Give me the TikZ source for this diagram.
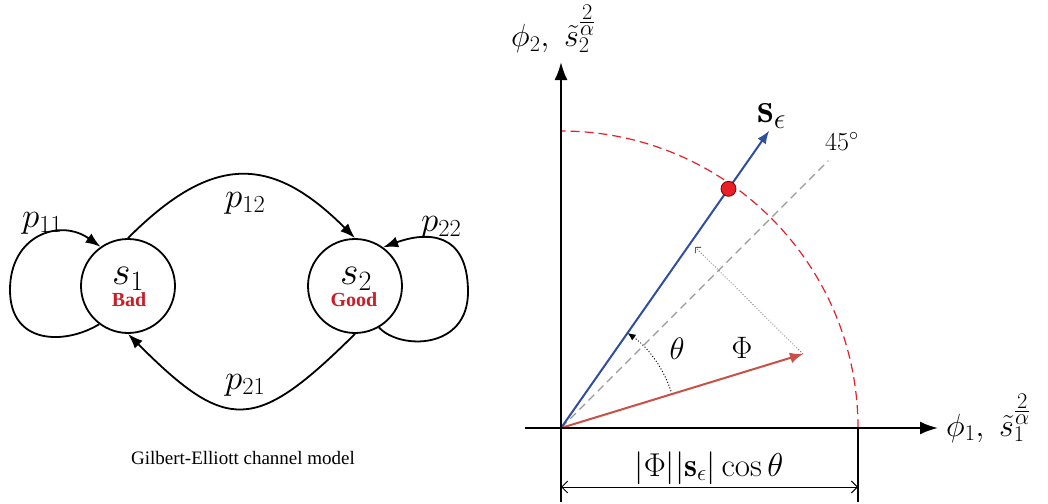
\RequirePackage{fix-cm}
\documentclass[tikz,border=0pt]{standalone}
\usepackage{fontspec}
\newfontfamily\tnr{Liberation Serif}
\usetikzlibrary{arrows.meta}
\definecolor{vblue}{RGB}{48,78,160}
\definecolor{vred}{RGB}{200,80,70}
\definecolor{arcred}{RGB}{228,32,42}
\definecolor{dotred}{RGB}{232,30,40}
\definecolor{lblred}{RGB}{200,30,40}
\newcommand{\pw}[1]{{\tilde{s}_{#1}}^{\frac{\scriptstyle 2}{\scriptstyle\alpha}}}
\begin{document}
\begin{tikzpicture}[x=1pt,y=-1pt,
  state/.style={circle, draw, line width=1.8pt, minimum size=94pt, inner sep=0},
  edge/.style={line width=1.8pt, -{Latex[length=15pt,width=11pt]}},
  plab/.style={inner sep=0, anchor=base west, font=\fontsize{35}{40}\selectfont},
  slab/.style={inner sep=0, anchor=base, font=\fontsize{40}{46}\selectfont},
  qual/.style={inner sep=0, anchor=base, text=lblred, font=\tnr\bfseries\fontsize{20}{24}\selectfont},
  mlab/.style={inner sep=0, font=\fontsize{31}{36}\selectfont},
  axlab/.style={inner sep=0, anchor=base west, font=\fontsize{32}{38}\selectfont},
  axis/.style={line width=2.2pt, -{Latex[length=18pt,width=13pt]}},
  dimline/.style={line width=1pt, {Straight Barb[length=6pt,width=12pt]}-{Straight Barb[length=6pt,width=12pt]}}
]
\useasboundingbox (0,0) rectangle (1048,503);

% ---------- Gilbert-Elliott model ----------
\node[state] (s1) at (128,286) {};
\node[state] (s2) at (355,286) {};
\node[slab] (s1l) at (128,284) {$s_1$};
\node[slab] (s2l) at (356,284) {$s_2$};
\node[qual] (bad) at (129,306) {Bad};
\node[qual] (good) at (354,306) {Good};

\draw[edge] (s1.north) .. controls (212,154) and (271,154) .. (s2.north);
\draw[edge] (s2.south) .. controls (255,433) and (227,433) .. (s1.south);
\draw[edge] (s1.-127) .. controls (65,345) and (10,345) .. (10,290)
   .. controls (10,235) and (60,218) .. (s1.125);
\draw[edge] (s2.-60) .. controls (400,350) and (468,350) .. (468,292)
   .. controls (468,230) and (425,232) .. (s2.54);

\node[plab] (p11) at (22,227) {$p_{11}$};
\node[plab] (p12) at (225,207) {$p_{12}$};
\node[plab] (p22) at (421,231) {$p_{22}$};
\node[plab] (p21) at (225,389) {$p_{21}$};

\node[inner sep=0, anchor=base, font=\tnr\fontsize{19}{23}\selectfont] (cap) at (243,464) {Gilbert-Elliott channel model};

% ---------- vector diagram ----------
\begin{scope}[shift={(561,428)}, yscale=-1]
  \coordinate (O) at (0,0);
  \coordinate (ybot) at (0,-74);
  \coordinate (ytop) at (0,366);
  \coordinate (xl) at (-36,0);
  \coordinate (xr) at (377,0);
  \coordinate (g45) at (45:378);
  \coordinate (Se) at (55:363);
  \coordinate (Ph) at (242,74);
  \coordinate (pr) at (134,181);
  \coordinate (d0) at (0,-59);
  \coordinate (d1) at (297,-59);
  \coordinate (v0) at (297,0);
  \coordinate (v1) at (297,-74);

  \draw[arcred, line width=1.2pt, dash pattern=on 9pt off 5pt] (297,0) arc[start angle=0, end angle=90, radius=297];
  \draw[gray!80, line width=1.1pt, dash pattern=on 8pt off 5pt] (O) -- (g45);
  \draw[gray!70!black, line width=0.8pt, dotted, -{Straight Barb[length=4pt,width=8pt]}] (Ph) -- (pr);
  \draw[line width=1pt, dotted, -{Latex[length=8pt,width=7pt]}] (17:116) arc[start angle=17, end angle=55, radius=116];
  \draw[vblue, line width=2pt, -{Latex[length=13pt,width=10pt]}] (O) -- (Se);
  \draw[vred, line width=2pt, -{Latex[length=13pt,width=11pt]}] (O) -- (Ph);
  \draw[line width=1.2pt] (O) -- (ybot);
  \draw[line width=1.2pt] (v0) -- (v1);
  \draw[axis] (ybot) -- (ytop);
  \draw[axis] (xl) -- (xr);
  \draw[dimline] (d0) -- (d1);
  \node[circle, fill=dotred, draw=red!50!black, line width=0.8pt, minimum size=15pt, inner sep=0] (dot) at (55:292) {};
\end{scope}

\node[mlab, anchor=base] (th) at (677,359) {$\theta$};
\node[mlab, anchor=base] (Phl) at (742,358) {$\Phi$};
\node[inner sep=0, anchor=base west, font=\fontsize{42}{48}\selectfont] (Sel) at (757,122) {$\mathbf{s}_{\epsilon}$};
\node[inner sep=0, anchor=base west, font=\fontsize{26}{30}\selectfont] (deg) at (825,150) {$45^{\circ}$};
\node[axlab] (ylab) at (511,47) {$\phi_2,\ \pw{2}$};
\node[axlab] (xlab) at (946,436) {$\phi_1,\ \pw{1}$};
\node[inner sep=0, anchor=base, font=\fontsize{33}{38}\selectfont] (dl) at (709,476) {$|\Phi||\mathbf{s}_{\epsilon}|\cos\theta$};
\end{tikzpicture}
\end{document}
